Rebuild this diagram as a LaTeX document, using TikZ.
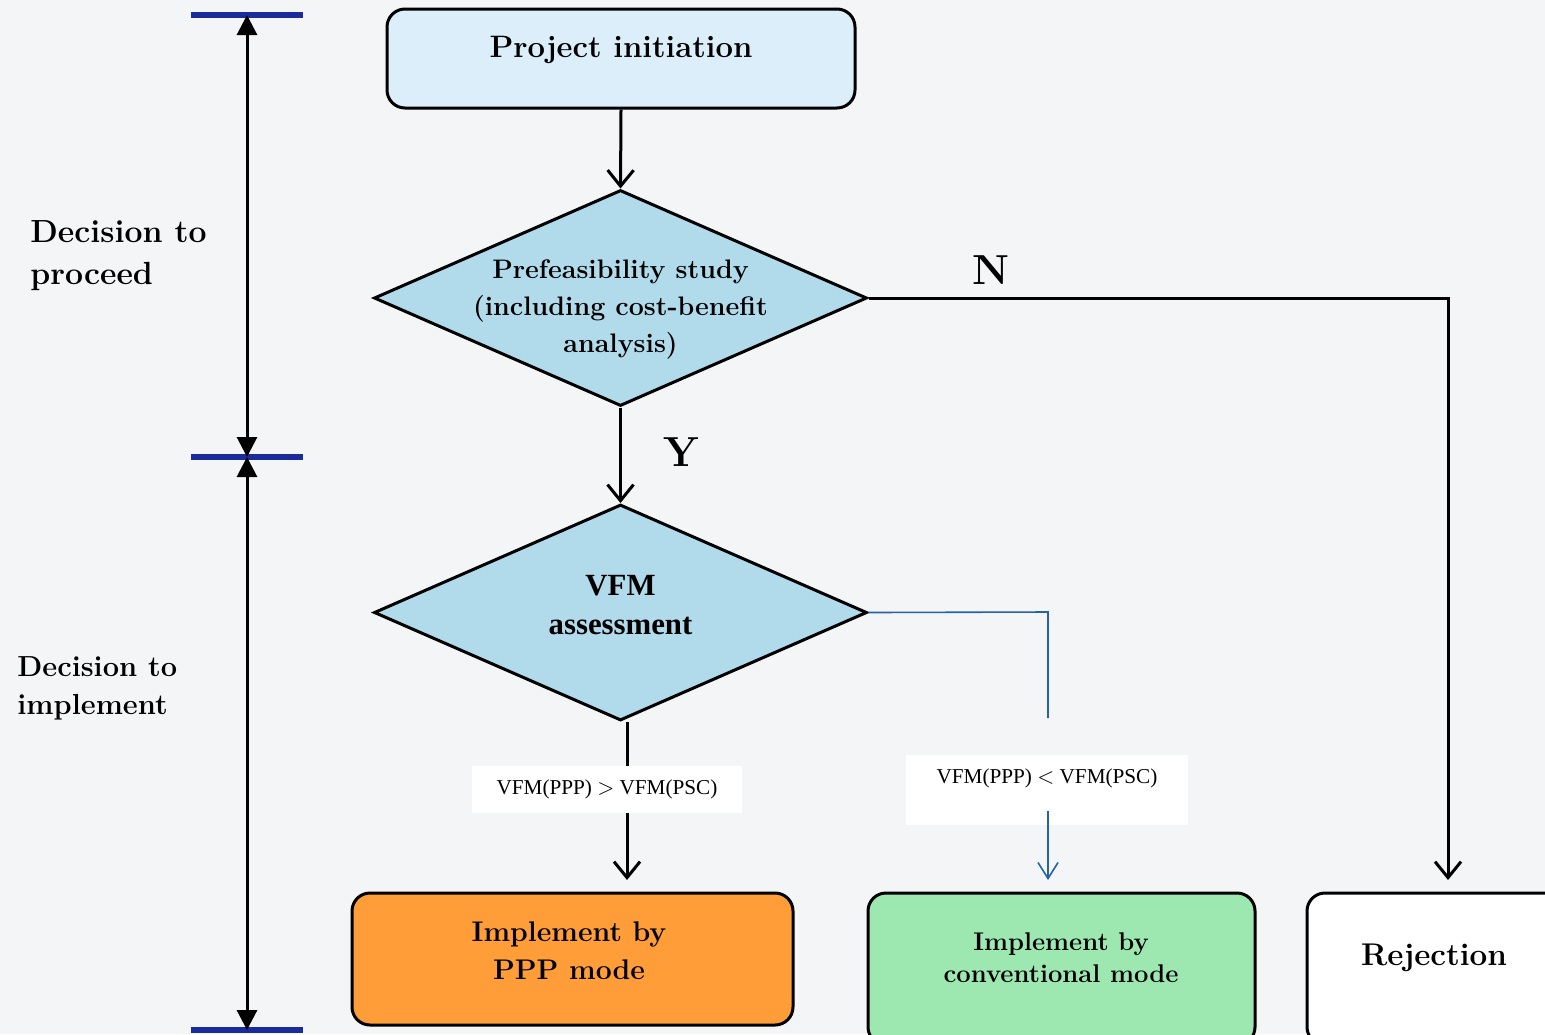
\documentclass[tikz,border=0pt]{standalone}
\usepackage{fontspec}
\newfontfamily\timesfont{Liberation Serif}
\usetikzlibrary{shapes.geometric,arrows.meta}
\definecolor{bgcol}{RGB}{244,245,246}
\definecolor{pifill}{RGB}{220,238,249}
\definecolor{diafill}{RGB}{177,218,235}
\definecolor{pppfill}{RGB}{255,157,56}
\definecolor{convfill}{RGB}{157,232,177}
\definecolor{barblue}{RGB}{28,43,156}
\definecolor{lineblue}{RGB}{37,99,166}
\begin{document}
\begin{tikzpicture}[x=0.5pt,y=-0.5pt,
  box/.style={draw=black, line width=1.5pt, rounded corners=9pt, inner sep=0pt},
  dia/.style={draw=black, line width=1.5pt, shape=diamond, fill=diafill, inner sep=0pt,
              minimum width=246.5pt, minimum height=108pt},
  lbl/.style={font=\bfseries, align=center, inner sep=0pt},
  conn/.style={line width=1.5pt, -{Straight Barb[length=8pt,width=13pt]}},
  bconn/.style={lineblue, line width=0.8pt, -{Straight Barb[length=8pt,width=10pt]}},
  tick/.style={barblue, line width=2.6pt},
  span/.style={line width=1.5pt, {Triangle[length=10pt,width=10pt]}-{Triangle[length=10pt,width=10pt]}},
  cond/.style={fill=white, inner sep=0pt, font=\timesfont\fontsize{10.6pt}{12pt}\selectfont}
]
\useasboundingbox (0,0) rectangle (1545,1034);
\clip (0,0) rectangle (1545,1034);
\fill[bgcol] (0,0) rectangle (1545,1034);

% left scale
\coordinate (s1) at (247,15);
\coordinate (s2) at (247,457);
\coordinate (s3) at (247,1030);
\draw[tick] (191,15) -- (303,15);
\draw[tick] (191,457) -- (303,457);
\draw[tick] (191,1030) -- (303,1030);
\draw[span] (s1) -- (s2);
\draw[span] (s2) -- (s3);
\node[lbl, align=left, anchor=west, font=\bfseries\fontsize{16pt}{21pt}\selectfont] (dp) at (30,256) {Decision to\\proceed};
\node[lbl, align=left, anchor=west, font=\bfseries\fontsize{14.5pt}{19pt}\selectfont] (di) at (17,688) {Decision to\\implement};

% boxes
\node[box, fill=pifill, minimum width=234pt, minimum height=49.5pt] (pi) at (621,58.5) {};
\node[lbl, font=\bfseries\fontsize{15.5pt}{19pt}\selectfont] (pit) at (621,50) {Project initiation};

\node[dia] (d1) at (620.5,298) {};
\node[lbl, font=\bfseries\fontsize{13.4pt}{18.5pt}\selectfont] (d1t) at (620.5,309) {Prefeasibility study\\(including cost-benefit\\analysis)};

\node[dia] (d2) at (620.5,612.5) {};
\node[lbl, font=\timesfont\bfseries\fontsize{15.4pt}{19.5pt}\selectfont] (d2t) at (620.5,605) {VFM\\assessment};

\node[box, fill=pppfill, minimum width=220.5pt, minimum height=66pt] (ppp) at (572.5,959) {};
\node[lbl, font=\bfseries\fontsize{14.2pt}{19pt}\selectfont] (pppt) at (569,951) {Implement by\\PPP mode};

\node[box, fill=convfill, minimum width=193.5pt, minimum height=76pt] (conv) at (1061.5,969) {};
\node[lbl, font=\bfseries\fontsize{12.8pt}{16pt}\selectfont] (convt) at (1061,958) {Implement by\\conventional mode};

\node[box, fill=white, minimum width=130pt, minimum height=76pt] (rej) at (1437,969) {};
\node[lbl, font=\bfseries\fontsize{15.7pt}{19pt}\selectfont] (rejt) at (1434,958) {Rejection};

% connectors
\draw[conn] (pi.south) -- (d1.north);
\draw[conn] (d1.south) -- (d2.north);
\node[lbl, font=\bfseries\fontsize{21pt}{24pt}\selectfont] (Y) at (681,452) {Y};

\coordinate (rejin) at (1448,880);
\draw[conn] (d1.east) -| (rejin);
\node[lbl, font=\bfseries\fontsize{21pt}{24pt}\selectfont] (N) at (991,270) {N};

\coordinate (pppin) at (627,880);
\draw[conn] (d2.south -| pppin) -- (pppin);
\node[cond, minimum width=135pt, minimum height=23.5pt] (c1) at (607,789) {VFM(PPP) $>$ VFM(PSC)};

\coordinate (cb) at (1048,612);
\coordinate (cc) at (1048,718);
\coordinate (cd) at (1048,811);
\coordinate (convin) at (1048,880);
\draw[lineblue, line width=0.8pt] (d2.east) -- (cb) -- (cc);
\node[cond, minimum width=141pt, minimum height=35pt] (c2box) at (1047,790) {};
\node[cond] (c2) at (1047,778) {VFM(PPP) $<$ VFM(PSC)};
\draw[bconn] (cd) -- (convin);
\end{tikzpicture}
\end{document}
